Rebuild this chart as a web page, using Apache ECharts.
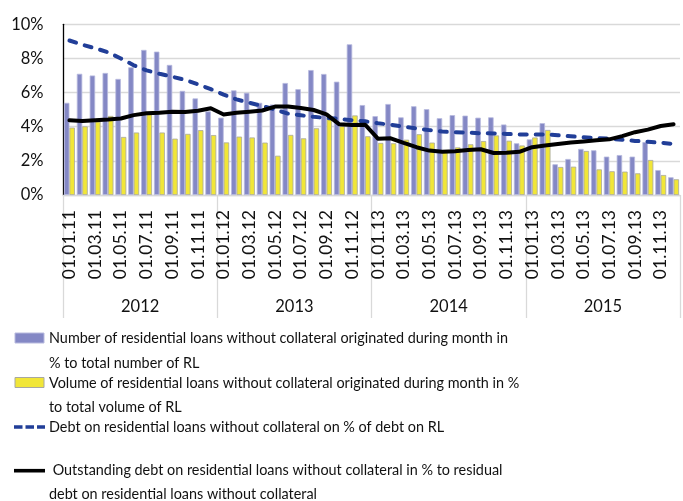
<!DOCTYPE html>
<html>
<head>
<meta charset="utf-8">
<script src="https://cdn.jsdelivr.net/npm/echarts@6/dist/echarts.min.js"></script>
<style>
  html, body { margin: 0; padding: 0; background: #fff; }
  #chart { width: 683px; height: 501px; }
</style>
</head>
<body>
<div id="chart"></div>
<script>
// ---- data -------------------------------------------------------------
const years = ['2012', '2013', '2014', '2015'];

// month tick labels as printed on the axis (every other one is shown)
const monthLabels = [
  '01.01.11','01.02.11','01.03.11','01.04.11','01.05.11','01.06.11','01.07.11','01.08.11','01.09.11','01.10.11','01.11.11','01.12.11',
  '01.01.12','01.02.12','01.03.12','01.04.12','01.05.12','01.06.12','01.07.12','01.08.12','01.09.12','01.10.12','01.11.12','01.12.12',
  '01.01.13','01.02.13','01.03.13','01.04.13','01.05.13','01.06.13','01.07.13','01.08.13','01.09.13','01.10.13','01.11.13','01.12.13',
  '01.01.13','01.02.13','01.03.13','01.04.13','01.05.13','01.06.13','01.07.13','01.08.13','01.09.13','01.10.13','01.11.13','01.12.13'
];

const yTicks = [0, 2, 4, 6, 8, 10];

// number of loans without collateral, % of total number of RL
const numberShare = [
  5.4, 7.1, 7.0, 7.15, 6.8, 7.48, 8.5, 8.4, 7.62, 6.1, 5.66, 4.9,
  4.53, 6.13, 5.99, 5.4, 5.3, 6.56, 6.2, 7.32, 7.09, 6.64, 8.83, 5.27,
  4.62, 5.33, 4.55, 5.2, 5.03, 4.5, 4.68, 4.65, 4.53, 4.55, 4.13, 3.03,
  3.26, 4.21, 1.8, 2.11, 2.7, 2.62, 2.25, 2.34, 2.25, 3.1, 1.46, 1.04
];

// volume of loans without collateral, % of total volume of RL
const volumeShare = [
  3.95, 4.02, 4.3, 4.63, 3.4, 3.66, 4.72, 3.66, 3.3, 3.58, 3.8, 3.51,
  3.08, 3.42, 3.37, 3.07, 2.3, 3.52, 3.32, 3.91, 4.49, 4.04, 4.66, 3.44,
  3.05, 3.03, 3.24, 3.56, 3.07, 2.55, 2.79, 2.97, 3.16, 3.49, 3.18, 2.9,
  3.37, 3.81, 1.64, 1.66, 2.58, 1.5, 1.39, 1.37, 1.27, 2.05, 1.17, 0.92
];

// debt on loans without collateral, % of debt on RL
const debtShare = [
  9.05, 8.8, 8.6, 8.36, 8.0, 7.6, 7.3, 7.1, 6.93, 6.74, 6.48, 6.2,
  5.88, 5.6, 5.4, 5.22, 5.0, 4.77, 4.67, 4.58, 4.51, 4.46, 4.38, 4.32,
  4.2, 4.12, 4.0, 3.9, 3.8, 3.72, 3.67, 3.65, 3.62, 3.61, 3.58, 3.54,
  3.55, 3.55, 3.5, 3.44, 3.38, 3.34, 3.3, 3.24, 3.17, 3.12, 3.06, 2.99
];

// outstanding debt, % of residual debt on loans without collateral
const outstandingShare = [
  4.38, 4.34, 4.38, 4.42, 4.48, 4.68, 4.79, 4.82, 4.87, 4.86, 4.94, 5.08,
  4.72, 4.82, 4.88, 4.95, 5.18, 5.19, 5.1, 4.98, 4.72, 4.14, 4.1, 4.12,
  3.3, 3.32, 3.05, 2.8, 2.6, 2.54, 2.56, 2.64, 2.68, 2.46, 2.47, 2.53,
  2.8, 2.9, 2.99, 3.08, 3.14, 3.21, 3.26, 3.45, 3.68, 3.83, 4.04, 4.14
];

// legend captions, one array of wrapped lines per series
const captionNumber = ['Number of residential loans without collateral originated during month in', '% to total number of RL'];
const captionVolume = ['Volume of residential loans without collateral originated during month in %', 'to total volume of RL'];
const captionDebt = ['Debt on residential loans without collateral on % of debt on RL'];
const captionOutstanding = [' Outstanding debt on residential loans without collateral in % to residual', 'debt on residential loans without collateral'];

// ---- styling ----------------------------------------------------------
const FONT = 'Lato, "Open Sans", sans-serif';
const TEXT = '#111';
const GRID = '#d9d9d9';
const BLUE = '#8488c5';
const BLUE_EDGE = '#b8bade';
const YELLOW = '#f1e638';
const YELLOW_EDGE = '#a8a8a0';
const NAVY = '#213e98';

const legendFontSize = 14.4;
const axisFontSize = 16.5;

function textLine(str, x, y) {
  return {
    type: 'text', silent: true,
    style: { text: str, x: x, y: y, fill: TEXT, fontFamily: FONT, fontSize: legendFontSize, verticalAlign: 'middle', align: 'left' }
  };
}

function captionBlock(lines, x, y0, lineStep) {
  return lines.map((s, i) => textLine(s, x, y0 + i * lineStep));
}

const legendGraphics = [
  { type: 'rect', silent: true, shape: { x: 15, y: 333, width: 29, height: 10 }, style: { fill: BLUE, stroke: BLUE_EDGE, lineWidth: 1 } },
  ...captionBlock(captionNumber, 49, 338.5, 24.4),
  { type: 'rect', silent: true, shape: { x: 15, y: 377.5, width: 29, height: 10 }, style: { fill: YELLOW, stroke: YELLOW_EDGE, lineWidth: 1 } },
  ...captionBlock(captionVolume, 49, 383.3, 24.4),
  { type: 'line', silent: true, shape: { x1: 14, y1: 427, x2: 45, y2: 427 }, style: { stroke: NAVY, lineWidth: 3.6, lineDash: [8.5, 3] } },
  ...captionBlock(captionDebt, 49, 427.3, 24.4),
  { type: 'line', silent: true, shape: { x1: 14, y1: 470.7, x2: 45, y2: 470.7 }, style: { stroke: '#000', lineWidth: 3.6 } },
  ...captionBlock(captionOutstanding, 49, 470.7, 23.6)
];

const chart = echarts.init(document.getElementById('chart'), null, { renderer: 'canvas' });

chart.setOption({
  animation: false,
  backgroundColor: '#fff',
  grid: { left: 63, right: 3, top: 24.3, bottom: 306 },
  xAxis: [
    {
      type: 'category',
      data: monthLabels,
      boundaryGap: true,
      axisLine: { show: true, lineStyle: { color: GRID, width: 1.3 } },
      axisTick: { show: false },
      splitLine: { show: false },
      axisLabel: {
        interval: 1, rotate: 90, margin: 15,
        fontFamily: FONT, fontSize: 17.5, color: TEXT
      }
    },
    {
      type: 'category',
      data: years,
      position: 'bottom',
      boundaryGap: true,
      axisLine: { show: false },
      axisTick: { show: true, interval: 0, length: 123, lineStyle: { color: GRID, width: 1.3 } },
      splitLine: { show: false },
      axisLabel: {
        interval: 0, margin: 112, verticalAlign: 'middle',
        fontFamily: FONT, fontSize: axisFontSize, color: TEXT
      }
    }
  ],
  yAxis: {
    type: 'value',
    min: yTicks[0], max: yTicks[yTicks.length - 1], interval: yTicks[1] - yTicks[0],
    axisLine: { show: true, lineStyle: { color: '#000', width: 1.3 } },
    axisTick: { show: false },
    splitLine: { show: true, lineStyle: { color: GRID, width: 1.3 } },
    axisLabel: {
      formatter: '{value}%', margin: 19.5,
      fontFamily: FONT, fontSize: axisFontSize, color: TEXT
    }
  },
  series: [
    {
      name: captionNumber.join(' '),
      type: 'bar', xAxisIndex: 0, data: numberShare,
      barGap: '0%', barCategoryGap: '15%',
      itemStyle: { color: BLUE, borderColor: BLUE_EDGE, borderWidth: 0.8 }
    },
    {
      name: captionVolume.join(' '),
      type: 'bar', xAxisIndex: 0, data: volumeShare,
      barGap: '0%', barCategoryGap: '15%',
      itemStyle: { color: YELLOW, borderColor: YELLOW_EDGE, borderWidth: 0.8 }
    },
    {
      name: captionDebt.join(' '),
      type: 'line', xAxisIndex: 0, data: debtShare,
      symbol: 'none',
      lineStyle: { color: NAVY, width: 4, type: [7, 9], cap: 'round', join: 'round' }
    },
    {
      name: captionOutstanding.join(' ').trim(),
      type: 'line', xAxisIndex: 0, data: outstandingShare,
      symbol: 'none',
      lineStyle: { color: '#000', width: 4, cap: 'round', join: 'round' }
    }
  ],
  graphic: legendGraphics
});
</script>
</body>
</html>
